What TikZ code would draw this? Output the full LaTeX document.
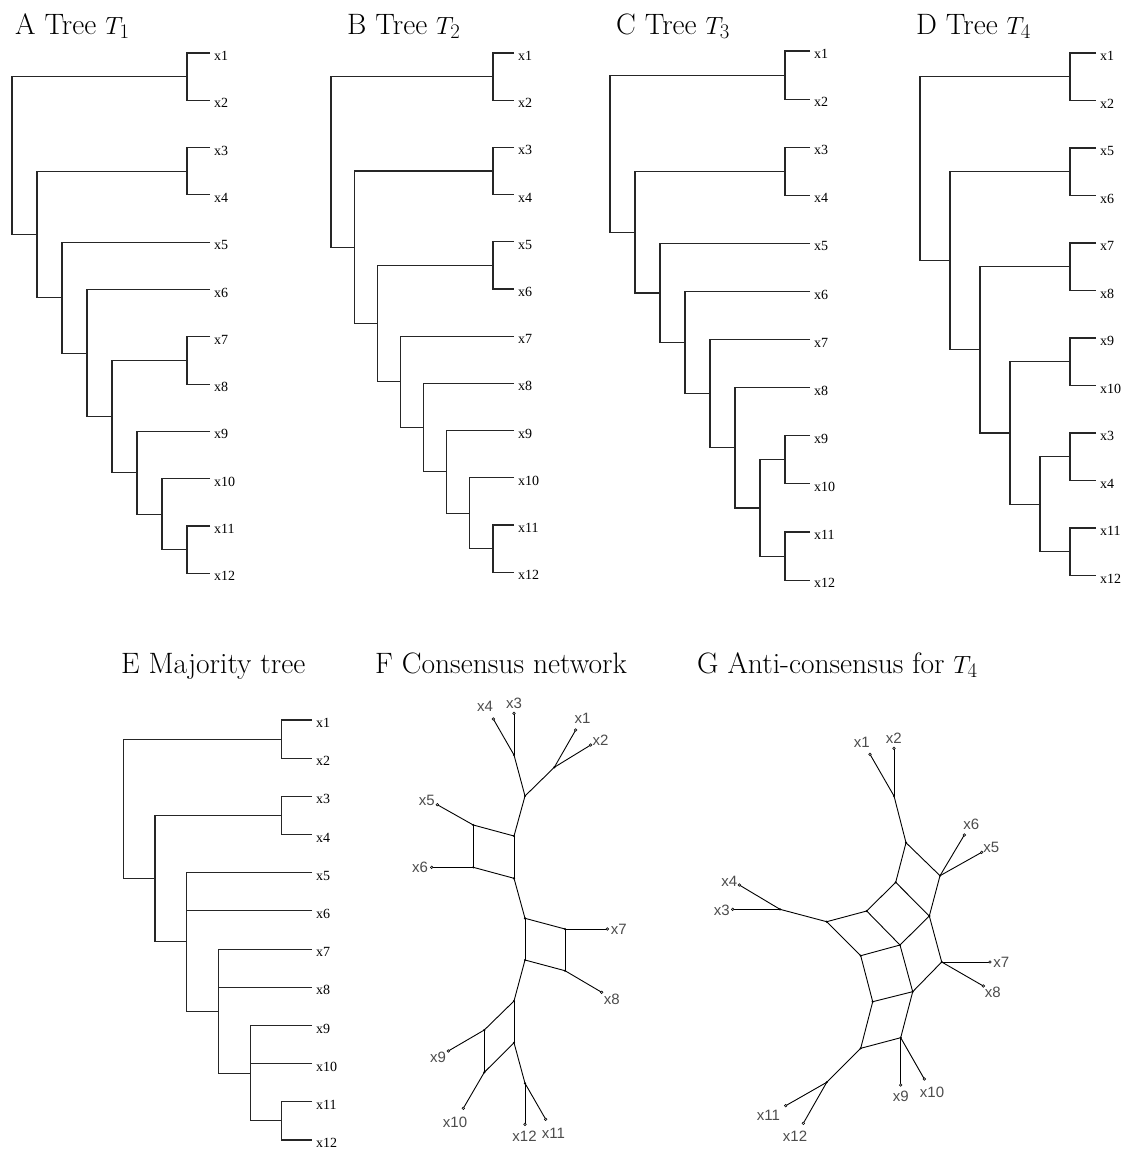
\documentclass[tikz,border=0pt]{standalone}
\usepackage{fontspec}
\newfontfamily\tfont{Liberation Serif}
\newfontfamily\nfont{Liberation Sans}
\usetikzlibrary{calc}
\tikzset{
 tl/.style={line width=1.1pt, black!85},
 tlab/.style={anchor=west, inner sep=0pt, font=\tfont\fontsize{14}{14}\selectfont, xshift=4pt, yshift=-3pt},
 ttl/.style={anchor=base west, inner sep=0pt, font=\fontsize{29.5}{34}\selectfont},
 nl/.style={line width=0.9pt, black},
 nlab/.style={inner sep=0pt, text=black!70, font=\nfont\fontsize{15}{15}\selectfont},
}
\newcommand\tnode[4]{\path let \p1=(#3), \p2=(#4) in coordinate (#1) at (#2pt,{(\y1+\y2)/2});
 \draw[tl] (#3) -| (#1) |- (#4);}
\newcommand\leaf[5]{\coordinate (#1-t#2) at (#3,{#4}); \node[tlab] (#1-l#2) at (#1-t#2) {#5};}
\begin{document}
\begin{tikzpicture}[x=1pt,y=-1pt]
\useasboundingbox (0,0) rectangle (1131,1151);
% titles
\node[ttl] (TA) at (15,34) {A Tree $T_1$};
\node[ttl] (TB) at (347,34) {B Tree $T_2$};
\node[ttl] (TC) at (616,34) {C Tree $T_3$};
\node[ttl] (TD) at (916,34) {D Tree $T_4$};
\node[ttl] (TE) at (121,673) {E Majority tree};
\node[ttl] (TF) at (375,673) {F Consensus network};
\node[ttl] (TG) at (697,673) {G Anti-consensus for $T_4$};

% ---------- Tree A
\foreach \i in {1,...,12} {\leaf{A}{\i}{210}{53+47.3*(\i-1)}{x\i}}
\tnode{A-c12}{187}{A-t1}{A-t2}
\tnode{A-c34}{187}{A-t3}{A-t4}
\tnode{A-c78}{187}{A-t7}{A-t8}
\tnode{A-c1112}{187}{A-t11}{A-t12}
\tnode{A-n6}{162}{A-t10}{A-c1112}
\tnode{A-n5}{137}{A-t9}{A-n6}
\tnode{A-n4}{112}{A-c78}{A-n5}
\tnode{A-n3}{87}{A-t6}{A-n4}
\tnode{A-n2}{62}{A-t5}{A-n3}
\tnode{A-n1}{37}{A-c34}{A-n2}
\tnode{A-r}{12}{A-c12}{A-n1}

% ---------- Tree B
\foreach \i in {1,...,12} {\leaf{B}{\i}{514}{53+47.2*(\i-1)}{x\i}}
\tnode{B-c12}{493}{B-t1}{B-t2}
\tnode{B-c34}{493}{B-t3}{B-t4}
\tnode{B-c56}{493}{B-t5}{B-t6}
\tnode{B-c1112}{493}{B-t11}{B-t12}
\tnode{B-m1}{469.9}{B-t10}{B-c1112}
\tnode{B-m2}{446.7}{B-t9}{B-m1}
\tnode{B-m3}{423.6}{B-t8}{B-m2}
\tnode{B-m4}{400.4}{B-t7}{B-m3}
\tnode{B-m5}{377.3}{B-c56}{B-m4}
\tnode{B-m6}{354.1}{B-c34}{B-m5}
\tnode{B-r}{331}{B-c12}{B-m6}

% ---------- Tree C
\foreach \i in {1,...,12} {\leaf{C}{\i}{810}{51+48.1*(\i-1)}{x\i}}
\tnode{C-c12}{785}{C-t1}{C-t2}
\tnode{C-c34}{785}{C-t3}{C-t4}
\tnode{C-c910}{785}{C-t9}{C-t10}
\tnode{C-c1112}{785}{C-t11}{C-t12}
\tnode{C-k1}{760}{C-c910}{C-c1112}
\tnode{C-k2}{735}{C-t8}{C-k1}
\tnode{C-k3}{710}{C-t7}{C-k2}
\tnode{C-k4}{685}{C-t6}{C-k3}
\tnode{C-k5}{660}{C-t5}{C-k4}
\tnode{C-k6}{635}{C-c34}{C-k5}
\tnode{C-r}{610}{C-c12}{C-k6}

% ---------- Tree D
\foreach \i/\l in {1/x1,2/x2,3/x5,4/x6,5/x7,6/x8,7/x9,8/x10,9/x3,10/x4,11/x11,12/x12}
  {\leaf{D}{\i}{1096}{53+47.5*(\i-1)}{\l}}
\tnode{D-c12}{1070}{D-t1}{D-t2}
\tnode{D-c56}{1070}{D-t3}{D-t4}
\tnode{D-c78}{1070}{D-t5}{D-t6}
\tnode{D-c910}{1070}{D-t7}{D-t8}
\tnode{D-c34}{1070}{D-t9}{D-t10}
\tnode{D-c1112}{1070}{D-t11}{D-t12}
\tnode{D-d1}{1040}{D-c34}{D-c1112}
\tnode{D-d2}{1010}{D-c910}{D-d1}
\tnode{D-d3}{980}{D-c78}{D-d2}
\tnode{D-d4}{950}{D-c56}{D-d3}
\tnode{D-r}{920}{D-c12}{D-d4}

% ---------- Tree E
\foreach \i in {1,...,12} {\leaf{E}{\i}{312}{720+38.18*(\i-1)}{x\i}}
\tnode{E-c12}{281.8}{E-t1}{E-t2}
\tnode{E-c34}{281.8}{E-t3}{E-t4}
\tnode{E-c1112}{281.8}{E-t11}{E-t12}
\tnode{E-e1}{250.1}{E-t9}{E-c1112}
\draw[tl] (E-t10) -- (E-e1 |- E-t10);
\tnode{E-e2}{218.4}{E-t7}{E-e1}
\draw[tl] (E-t8) -- (E-e2 |- E-t8);
\tnode{E-e3}{186.7}{E-t5}{E-e2}
\draw[tl] (E-t6) -- (E-e3 |- E-t6);
\tnode{E-e4}{155}{E-c34}{E-e3}
\tnode{E-r}{123.3}{E-c12}{E-e4}

% ---------- Network F
\foreach \n/\x/\y in {x4/493.3/719, x3/514/713.3, a/514/755, x1/575.7/730, x2/590.7/745,
  b/554.3/767.3, c/525/796, x5/437.3/804.7, p1/473.3/825, p2/514/836, p3/473.3/867.3,
  p4/514/878.3, x6/431.7/867.3, q1/525/918.3, q2/565/929, q3/525/960, q4/565/970.7,
  x7/607.3/929, x8/601.7/992.3, d/514/1001, e/484.3/1030, f/484.3/1072.3, g/514/1042.7,
  x9/448.3/1051, x10/463.3/1108.3, h/525/1083.3, x12/525/1124.3, x11/545.7/1119.3}
  {\coordinate (F-\n) at (\x,\y);}
\foreach \a/\b in {x4/a, x3/a, a/c, x1/b, x2/b, b/c, c/p2, p1/p2, p1/p3, p2/p4, p3/p4,
  x5/p1, x6/p3, p4/q1, q1/q2, q1/q3, q2/q4, q3/q4, q2/x7, q4/x8, q3/d, d/e, d/g, e/f,
  f/g, e/x9, f/x10, g/h, h/x12, h/x11}
  {\draw[nl] (F-\a) -- (F-\b);}
\foreach \n in {a,b,c,p1,p2,p3,p4,q1,q2,q3,q4,d,e,f,g,h}
  {\fill (F-\n) circle (1.2pt);}
\foreach \n in {x1,x2,x3,x4,x5,x6,x7,x8,x9,x10,x11,x12}
  {\draw[line width=0.6pt, fill=white] (F-\n) circle (1.3pt);}
\foreach \n/\x/\y in {x4/485/706, x3/514/703, x1/582.5/718, x2/600.5/740, x5/426.7/800,
  x6/420/867.3, x7/618.7/929, x8/611.7/999, x9/438/1057, x10/455/1122.7, x12/524.5/1136.7,
  x11/553.3/1133.3}
  {\node[nlab] (F-l\n) at (\x,\y) {\n};}

% ---------- Network G
\foreach \n/\x/\y in {x1/870/754.3, x2/894/748.3, p/894/796, q/906/842.7, x6/964.3/835,
  x5/981.7/852.3, r/940/875.7, s/895.7/882.3, t/929.3/916, u/866.7/911, v/826.7/921.7,
  x4/739.3/885, x3/732.7/909.3, w/780/909.3, y/900/945, z/860.7/955.7, aa/941.7/962,
  x7/990/962, x8/983.3/986, bb/912.7/991.7, cc/872.7/1001.7, dd/860.7/1048.3,
  ee/900.7/1037.7, x9/900.7/1085, x10/924.3/1079, ff/826.7/1082.3, x11/785.7/1105.7,
  x12/803.3/1123.3}
  {\coordinate (G-\n) at (\x,\y);}
\foreach \a/\b in {x1/p, x2/p, p/q, q/r, q/s, r/x5, r/x6, r/t, s/t, s/u, u/v, v/w, w/x3,
  w/x4, u/y, t/y, t/aa, aa/x7, aa/x8, aa/bb, v/z, y/z, y/bb, z/cc, cc/bb, cc/dd, bb/ee,
  dd/ee, ee/x9, ee/x10, dd/ff, ff/x11, ff/x12}
  {\draw[nl] (G-\a) -- (G-\b);}
\foreach \n in {p,q,r,s,t,u,v,w,y,z,aa,bb,cc,dd,ee,ff}
  {\fill (G-\n) circle (1.2pt);}
\foreach \n in {x1,x2,x3,x4,x5,x6,x7,x8,x9,x10,x11,x12}
  {\draw[line width=0.6pt, fill=white] (G-\n) circle (1.3pt);}
\foreach \n/\x/\y in {x1/861.7/742.7, x2/893.7/738.3, x6/971.3/824, x5/991.3/847.7,
  x4/729.2/881.3, x3/721.7/910, x7/1001.3/962.7, x8/992.8/992.7, x9/900.8/1096.7,
  x10/932/1092.7, x11/768.3/1115.7, x12/795/1136.7}
  {\node[nlab] (G-l\n) at (\x,\y) {\n};}
\end{tikzpicture}
\end{document}
